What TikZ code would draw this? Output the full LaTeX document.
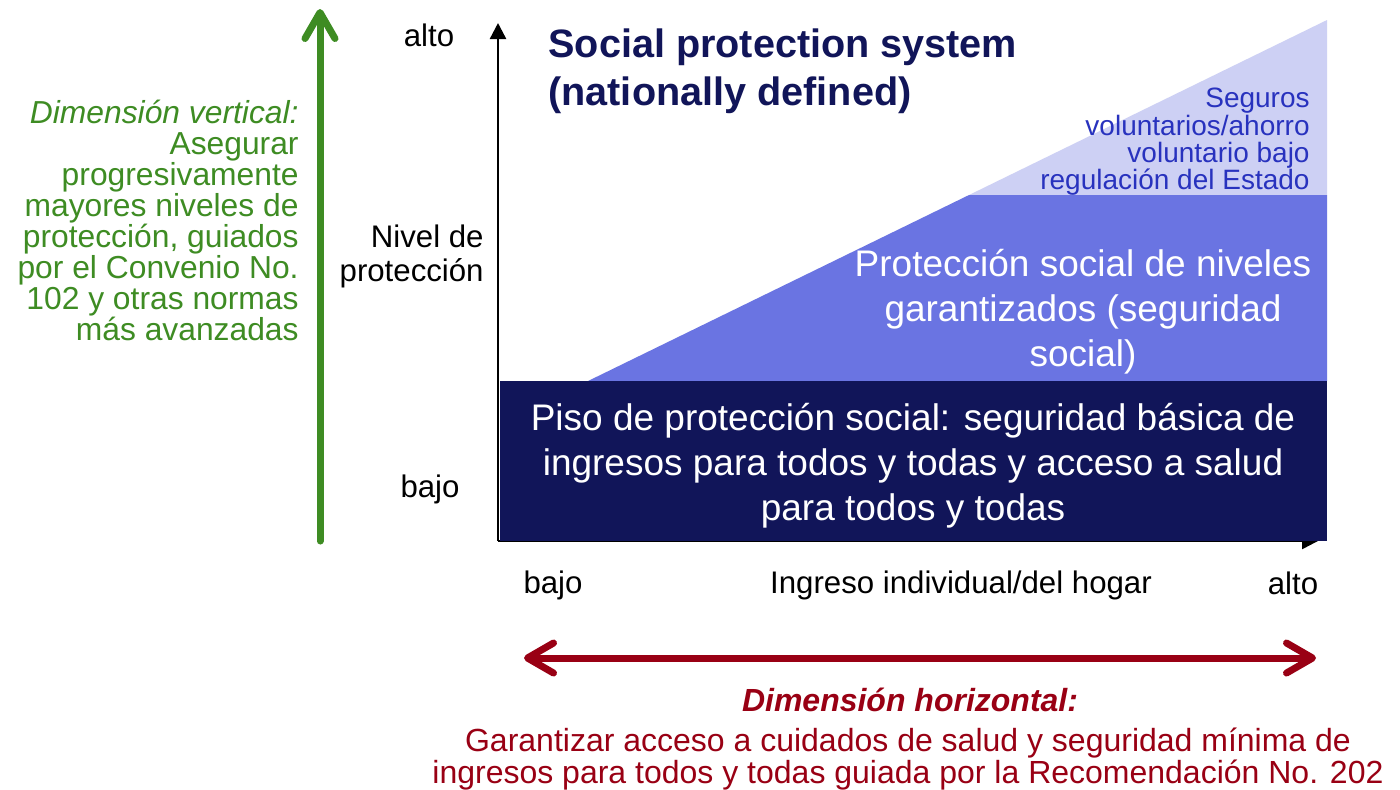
\documentclass[tikz,border=0pt]{standalone}
\usepackage{fontspec}
\setmainfont{Liberation Sans}
\usetikzlibrary{arrows.meta}
\definecolor{grn}{RGB}{62,140,35}
\definecolor{redd}{RGB}{153,0,20}
\definecolor{navy}{RGB}{17,21,89}
\definecolor{midblue}{RGB}{106,116,226}
\definecolor{lightblue}{RGB}{205,208,244}
\definecolor{txtblue}{RGB}{40,50,190}
\tikzset{
  lbl/.style={inner sep=0pt, font=\fontsize{15.6}{17}\selectfont, text=black},
  bigarrow/.style={line width=3.5pt, line cap=round,
    -{Straight Barb[length=13pt,width=15pt,round]}},
  axis/.style={line width=1.2pt, -{Triangle[length=8pt,width=8pt]}},
}
\begin{document}
\begin{tikzpicture}[x=0.5pt,y=-0.5pt]
\useasboundingbox (0,0) rectangle (1400,789);
\fill[white] (0,0) rectangle (1400,789);
% areas
\fill[lightblue] (969,195) -- (1327,20) -- (1327,195) -- cycle;
\fill[midblue] (588,381) -- (969,195) -- (1327,195) -- (1327,381) -- cycle;
% axes
\coordinate (o) at (498,541);
\coordinate (ytop) at (498,23);
\coordinate (xend) at (1318,541);
\draw[axis] (o) -- (ytop);
\draw[axis] (o) -- (xend);
% base box
\fill[navy] (500,381) rectangle (1327,541);
% green arrow
\coordinate (g0) at (320,541);
\coordinate (g1) at (320,9);
\draw[grn, bigarrow] (g0) -- (g1);
% red double arrow
\coordinate (r0) at (524,658);
\coordinate (r1) at (1316,658);
\draw[redd, line width=3.5pt, line cap=round,
  {Straight Barb[length=13pt,width=15pt,round]}-{Straight Barb[length=13pt,width=15pt,round]}] (r0) -- (r1);
% title
\node[anchor=north west, inner sep=0pt, align=left, text=navy,
  font=\fontsize{19.8}{24}\selectfont\bfseries] (title) at (548,28)
  {Social protection system\\(nationally defined)};
% y labels
\node[lbl] (yalto) at (429,35) {alto};
\node[lbl, align=right, anchor=east] (ynivel) at (484,256) {Nivel de\\protección};
\node[lbl] (ybajo) at (430,489) {bajo};
% x labels
\node[lbl] (xbajo) at (553,585) {bajo};
\node[lbl] (xing) at (961,585) {Ingreso individual/del hogar};
\node[lbl] (xalto) at (1293,583) {alto};
% green text
\node[anchor=north east, inner sep=0pt, align=right, text=grn,
  font=\fontsize{15.9}{15.5}\selectfont] (gtext) at (299,100)
  {\textit{Dimensión vertical:}\\Asegurar\\progresivamente\\mayores niveles de\\protección, guiados\\por el Convenio No.\\102 y otras normas\\más avanzadas};
% light text
\node[anchor=north east, inner sep=0pt, align=right, text=txtblue,
  font=\fontsize{14}{13.6}\selectfont] (ltext) at (1310,88)
  {Seguros\\voluntarios/ahorro\\voluntario bajo\\regulación del Estado};
% medium text
\node[inner sep=0pt, align=center, text=white,
  font=\fontsize{18.5}{22.5}\selectfont] (mtext) at (1083,312)
  {Protección social de niveles\\garantizados (seguridad\\social)};
% base text
\node[inner sep=0pt, align=center, text=white,
  font=\fontsize{18.5}{22.5}\selectfont] (btext) at (913,466)
  {Piso de protección social: seguridad básica de\\ingresos para todos y todas y acceso a salud\\para todos y todas};
% red texts
\node[inner sep=0pt, text=redd, font=\fontsize{16}{18}\selectfont\bfseries\itshape]
  (rhead) at (910,700) {Dimensión horizontal:};
\node[inner sep=0pt, align=center, text=redd, font=\fontsize{16}{14.5}\selectfont]
  (rtext) at (908,759)
  {Garantizar acceso a cuidados de salud y seguridad mínima de\\ingresos para todos y todas guiada por la Recomendación No. 202};
\end{tikzpicture}
\end{document}
